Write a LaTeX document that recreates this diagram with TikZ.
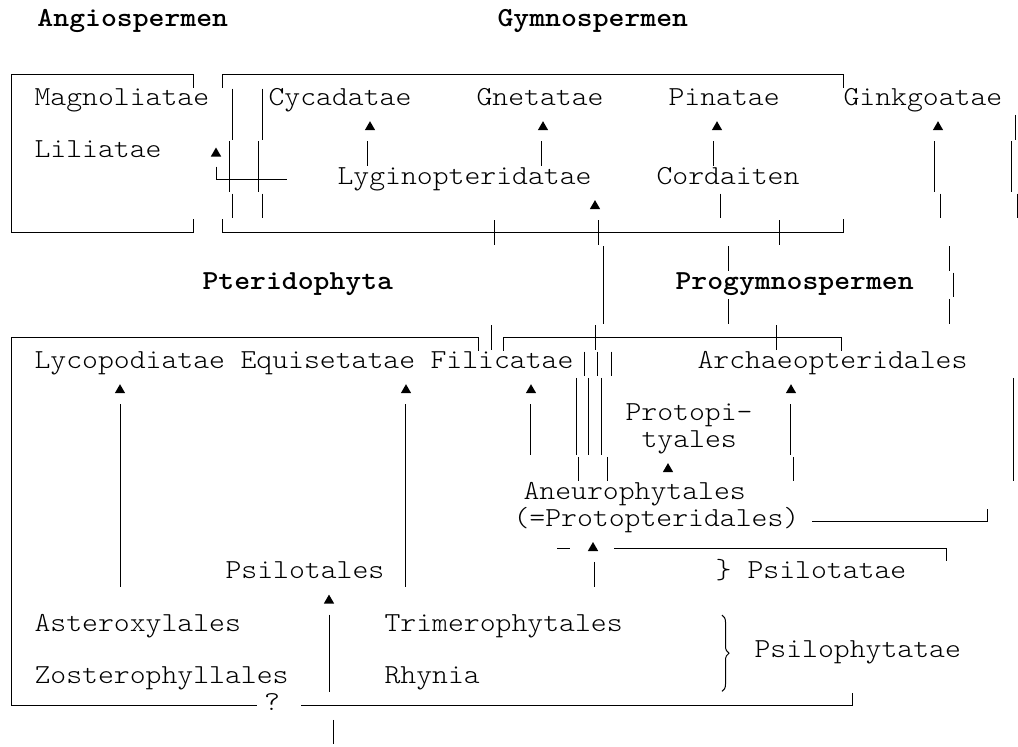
\documentclass[tikz,border=0pt]{standalone}
\usepackage{fontspec}
\newfontfamily\courfont{lmmonolt10-regular.otf}[BoldFont=lmmonolt10-bold.otf,FakeStretch=1.1]
\usetikzlibrary{shapes.geometric,decorations.pathreplacing}

\tikzset{
  txt/.style={anchor=mid west,inner sep=0pt,font=\courfont\fontsize{13.75pt}{13.15pt}\selectfont},
  head/.style={txt,font=\courfont\bfseries\fontsize{13.75pt}{13.15pt}\selectfont},
  uptri/.style={regular polygon,regular polygon sides=3,fill,inner sep=0pt,outer sep=0pt,minimum size=6pt},
  boxline/.style={line width=0.5pt},
}

\begin{document}
\begin{tikzpicture}[x=0.5pt,y=-13.15pt,boxline]
\useasboundingbox (0,-0.8365) rectangle (1018,27.53);

% group headings
\node[head] (angio)   at (37,0)   {Angiospermen};
\node[head] (gymno)   at (497,0)  {Gymnospermen};
\node[head] (pterido) at (202,10) {Pteridophyta};
\node[head] (progym)  at (675,10) {Progymnospermen};

% taxa
\node[txt] (magn)    at (34,3)   {Magnoliatae};
\node[txt] (cyca)    at (268,3)  {Cycadatae};
\node[txt] (gneta)   at (476,3)  {Gnetatae};
\node[txt] (pina)    at (668,3)  {Pinatae};
\node[txt] (ginkgo)  at (843,3)  {Ginkgoatae};
\node[txt] (lili)    at (34,5)   {Liliatae};
\node[txt] (lygino)  at (337,6)  {Lyginopteridatae};
\node[txt] (corda)   at (656,6)  {Cordaiten};
\node[txt] (lyco)    at (34,13)  {Lycopodiatae};
\node[txt] (equi)    at (240,13) {Equisetatae};
\node[txt] (fili)    at (430,13) {Filicatae};
\node[txt] (archaeo) at (697,13) {Archaeopteridales};
\node[txt] (protoA)  at (625,15) {Protopi-};
\node[txt] (protoB)  at (641,16) {tyales};
\node[txt] (aneuro)  at (523,18) {Aneurophytales};
\node[txt] (protopt) at (513,19) {(=Protopteridales)};
\node[txt] (psilot)  at (225,21) {Psilotales};
\node[txt] (brA)     at (715,21) {\}};
\node[txt] (psilota) at (747,21) {Psilotatae};
\node[txt] (astero)  at (34,23)  {Asteroxylales};
\node[txt] (trimero) at (384,23) {Trimerophytales};
\node[txt] (psiloph) at (754,24) {Psilophytatae};
\node[txt] (zostero) at (34,25)  {Zosterophyllales};
\node[txt] (rhynia)  at (384,25) {Rhynia};
\node[txt,anchor=mid] (quest) at (272,26) {?};

% arrow heads
\node[uptri] (aLili)    at (216,5)  {};
\node[uptri] (aCyca)    at (370,4)  {};
\node[uptri] (aGneta)   at (543,4)  {};
\node[uptri] (aPina)    at (717,4)  {};
\node[uptri] (aGinkgo)  at (938,4)  {};
\node[uptri] (aLygino)  at (595,7)  {};
\node[uptri] (aLyco)    at (120,14) {};
\node[uptri] (aEqui)    at (406,14) {};
\node[uptri] (aFili)    at (531,14) {};
\node[uptri] (aArchaeo) at (791,14) {};
\node[uptri] (aProto)   at (668,17) {};
\node[uptri] (aAneuro)  at (593,20) {};
\node[uptri] (aPsilot)  at (329,22) {};

% boxes
\draw (193,2.5) -- (193,2) -- (11,2) -- (11,8) -- (193,8) -- (193,7.5);
\draw (222,2.5) -- (222,2) -- (843,2) -- (843,2.5);
\draw (222,7.5) -- (222,8) -- (843,8) -- (843,7.5);
\draw (478,12.5) -- (478,12) -- (11,12) -- (11,26) -- (257,26);
\draw (301,26) -- (852,26) -- (852,25.5);
\draw (503,12.5) -- (503,12) -- (841,12) -- (841,12.5);

% horizontal strokes
\draw (216,5.5) -- (216,6) -- (287,6);
\draw (812,19) -- (987,19) -- (987,18.5);
\draw (557,20) -- (570,20);
\draw (614,20) -- (946,20) -- (946,20.5);

% crossings on the box lines
\foreach \x/\r in {494/8,598/8,779/8,595/12,776/12}
  \draw (\x,\r-0.47) -- (\x,\r+0.47);

% vertical strokes: x / first row / last row
\foreach \x/\a/\b in {232/3/4,229/5/6,232/7/7,262/3/4,258/5/6,262/7/7,
    367/5/5,541/5/5,713/5/5,934/5/6,940/7/7,1015/4/4,1011/5/6,1017/7/7,
    720/7/7,603/9/11,728/9/9,728/11/11,949/9/9,953/10/10,949/11/11,
    491/12/12,584/13/13,597/13/13,611/13/13,576/14/16,588/14/16,601/14/16,
    578/17/17,607/17/17,120/15/21,405/15/21,530/15/16,790/15/16,793/17/17,
    1013/14/17,594/21/21,329/23/25,333/27/27}
  \draw (\x,\a-0.47) -- (\x,\b+0.47);

% brace
\draw[decorate,decoration={brace,amplitude=3.5pt}] (722,22.55) -- (722,25.45);
\end{tikzpicture}
\end{document}
